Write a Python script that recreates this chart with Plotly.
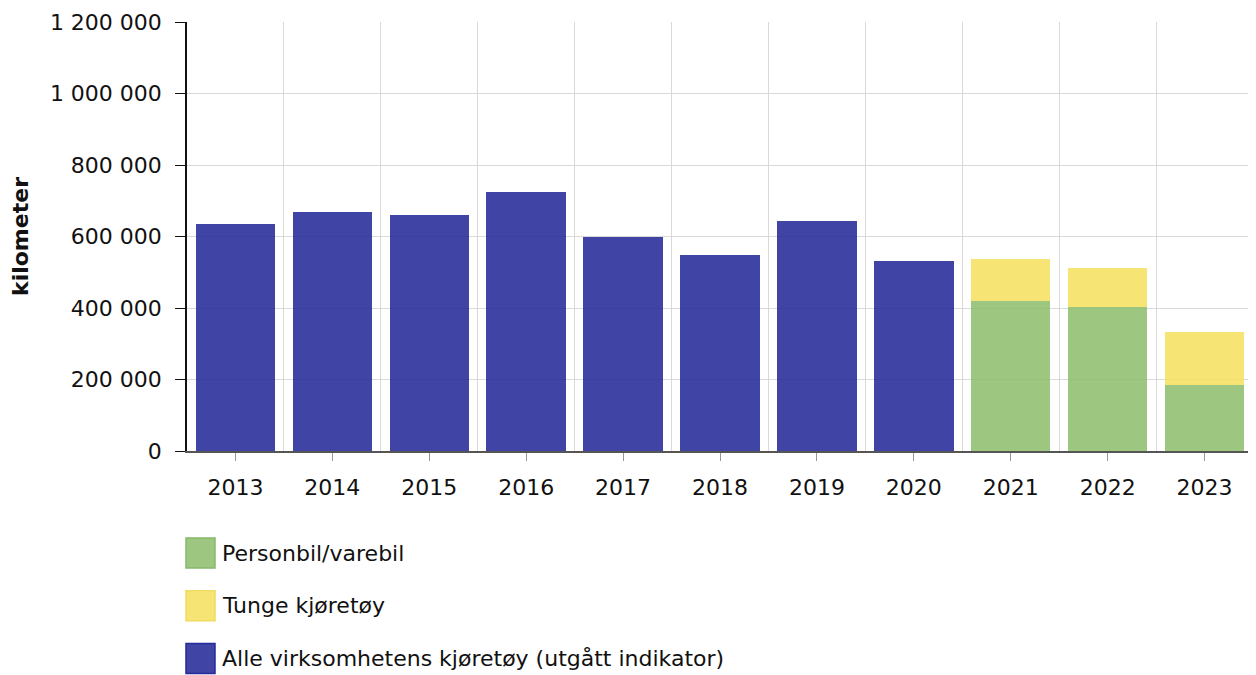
import plotly.graph_objects as go

years = [2013, 2014, 2015, 2016, 2017, 2018, 2019, 2020, 2021, 2022, 2023]
alle = [635000, 668000, 660000, 724000, 599000, 548000, 643000, 531000, None, None, None]
personbil = [None, None, None, None, None, None, None, None, 420000, 404000, 186000]
tunge = [None, None, None, None, None, None, None, None, 117000, 108000, 147000]
y_ticks = [0, 200000, 400000, 600000, 800000, 1000000, 1200000]

names = ["Personbil/varebil", "Tunge kjøretøy", "Alle virksomhetens kjøretøy (utgått indikator)"]
fills = ["rgba(144,190,110,0.88)", "rgba(245,224,97,0.88)", "rgba(37,43,152,0.88)"]
borders = ["#86b96a", "#f2dc60", "#252b98"]
series = [personbil, tunge, alle]

FONT = "DejaVu Sans, Verdana, sans-serif"
FS = 22
W, H = 1248, 667
L, T, R, B = 179, 14, 3, 224
fig = go.Figure()
for name, vals, col in zip(names, series, fills):
    fig.add_trace(go.Bar(x=years, y=vals, name=name, marker=dict(color=col, line=dict(width=0)),
                         showlegend=False))

fig.update_layout(
    barmode="stack", bargap=0.18,
    width=W, height=H,
    margin=dict(l=L, r=R, t=T, b=B),
    plot_bgcolor="white", paper_bgcolor="white",
    separators=", ",
    font=dict(family=FONT, size=FS, color="#111"),
)
fig.update_xaxes(
    range=[2012.5, 2023.5], tickvals=years, ticks="outside", ticklen=8, tickcolor="#999",
    showgrid=False, showline=True, linecolor="#555", linewidth=1.5,
    minor=dict(tickvals=[y + 0.5 for y in years[:-1]], showgrid=True, gridcolor="#d9d9d9", gridwidth=1, ticks=""),
    tickfont=dict(size=FS), ticklabelstandoff=8,
)
fig.update_yaxes(
    range=[0, 1200000], tickvals=y_ticks, tickformat=",d", ticks="outside", ticklen=10, tickcolor="#111",
    showgrid=True, gridcolor="#d9d9d9", gridwidth=1, showline=True, linecolor="#111", linewidth=1.5,
    zeroline=False, tickfont=dict(size=FS), ticklabelstandoff=9,
    title=dict(text="<b>kilometer</b>", font=dict(size=FS), standoff=17),
)

# custom legend (large swatches)
plot_h = H - T - B
plot_w = W - L - R
for i, (name, col, bc) in enumerate(zip(names, fills, borders)):
    top_px = 87 + i * 52.7
    y0 = -top_px / plot_h
    y1 = -(top_px + 30) / plot_h
    fig.add_shape(type="rect", xref="paper", yref="paper", x0=-1 / plot_w, x1=28 / plot_w, y0=y1, y1=y0,
                  fillcolor=col, line=dict(color=bc, width=1.5))
    fig.add_annotation(xref="paper", yref="paper", x=33 / plot_w, y=(y0 + y1) / 2, text=name,
                       showarrow=False, xanchor="left", yanchor="middle", font=dict(size=FS, color="#111"))

fig.write_html("out.html")
